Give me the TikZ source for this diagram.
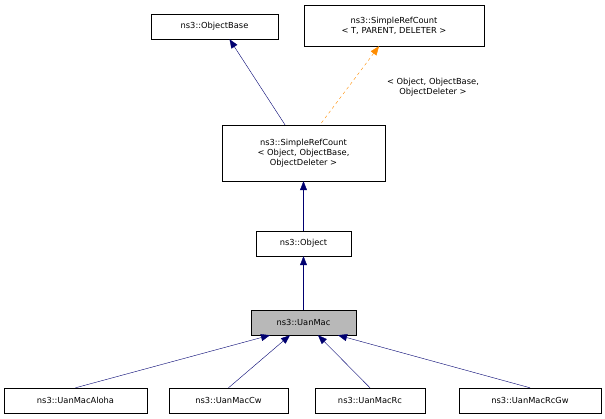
\documentclass[tikz,border=0pt]{standalone}
\usepackage{fontspec}
\setmainfont{DejaVu Sans}
\usetikzlibrary{arrows.meta}

\tikzset{
  cls/.style={draw, fill=white, inner sep=2pt, align=center, font=\fontsize{8.3}{9.8}\selectfont},
  inh/.style={draw=blue!30!black!80!blue, {Triangle[width=7pt,length=9pt,fill=blue!30!black!80!blue]}-},
  tpl/.style={draw=orange!90!yellow, dashed, {Triangle[width=7pt,length=9pt,fill=orange!90!yellow]}-}
}

\begin{document}
\begin{tikzpicture}[x=1pt,y=-1pt]
      \useasboundingbox (0,0) rectangle (605,419);

      % top row
      \node [cls, minimum width=127pt, minimum height=25pt] (base) at (214.5,26.5) {ns3::ObjectBase};
      \node [cls, minimum width=180pt, minimum height=41pt] (srct) at (394,25.5) {ns3::SimpleRefCount\\\textless{} T, PARENT, DELETER \textgreater};

      % middle
      \node [cls, minimum width=163pt, minimum height=56pt] (srco) at (303.5,153) {ns3::SimpleRefCount\\\textless{} Object, ObjectBase,\\ObjectDeleter \textgreater};
      \node [cls, minimum width=95pt, minimum height=25pt] (obj) at (303.5,243.5) {ns3::Object};
      \node [cls, fill=black!28, minimum width=105pt, minimum height=25pt] (mac) at (303.5,322.5) {ns3::UanMac};

      % bottom row
      \node [cls, minimum width=143pt, minimum height=25pt] (aloha) at (75.5,400.5) {ns3::UanMacAloha};
      \node [cls, minimum width=119pt, minimum height=25pt] (cw) at (228.5,400.5) {ns3::UanMacCw};
      \node [cls, minimum width=110pt, minimum height=25pt] (rc) at (370,400.5) {ns3::UanMacRc};
      \node [cls, minimum width=142pt, minimum height=25pt] (rcgw) at (530,400.5) {ns3::UanMacRcGw};

      \draw [inh] (base.south) ++(15,0) coordinate (b1) -- (srco.north -| 285,0);
      \draw [tpl] (srct.south) ++(-15,0) coordinate (t1) -- (srco.north -| 320,0);
      \node [cls, draw=none, fill=none] (lbl) at (433,87) {\textless{} Object, ObjectBase,\\ObjectDeleter \textgreater};
      \draw [inh] (srco) -- (obj);
      \draw [inh] (obj) -- (mac);
      \draw [inh] (mac.south -| 270,0) -- (aloha.north);
      \draw [inh] (mac.south -| 290,0) -- (cw.north);
      \draw [inh] (mac.south -| 318,0) -- (rc.north);
      \draw [inh] (mac.south -| 338,0) -- (rcgw.north);
    \end{tikzpicture}
\end{document}
